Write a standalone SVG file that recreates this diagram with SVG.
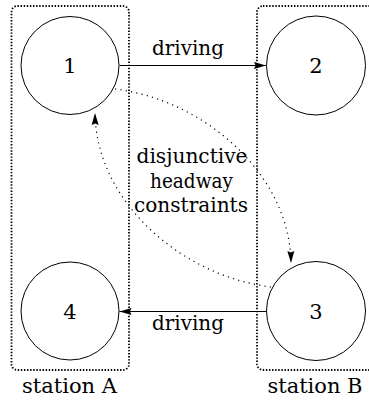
<svg xmlns="http://www.w3.org/2000/svg" width="369" height="402" viewBox="0 0 369 402">
  <style>
    .station { fill: none; stroke: #000; stroke-width: 1.8; stroke-dasharray: 1.4 1.7; }
    .node circle { fill: #fff; stroke: #000; stroke-width: 1; }
    .lbl { font-family: "DejaVu Serif", "Liberation Serif", "Times New Roman", serif; font-size: 21px; fill: #000; text-anchor: middle; }
    .drive { fill: none; stroke: #000; stroke-width: 1; }
    .headway { fill: none; stroke: #000; stroke-width: 1.2; stroke-dasharray: 1.2 4.2; }
  </style>
  <defs>
    <marker id="arrow" markerUnits="userSpaceOnUse" markerWidth="13" markerHeight="8" refX="12" refY="4" orient="auto">
      <path d="M0,0.5 L12,4 L0,7.5 L1.5,4 Z" fill="#000"/>
    </marker>
  </defs>

  <!-- station frames -->
  <g id="stationA">
    <rect class="station" x="11.5" y="6" width="117.5" height="364" rx="6"/>
    <text class="lbl" x="69.5" y="393" textLength="95" lengthAdjust="spacingAndGlyphs">station A</text>
  </g>
  <g id="stationB">
    <rect class="station" x="257" y="6" width="125" height="364" rx="6"/>
    <text class="lbl" x="315" y="393" textLength="95" lengthAdjust="spacingAndGlyphs">station B</text>
  </g>

  <!-- connectors -->
  <g id="connectors">
    <line class="drive" x1="119.5" y1="65.5" x2="266" y2="65.5" marker-end="url(#arrow)"/>
    <line class="drive" x1="266" y1="311.5" x2="119.5" y2="311.5" marker-end="url(#arrow)"/>
    <path class="headway" d="M115,89 C205,100 290,175 291,263" marker-end="url(#arrow)"/>
    <path class="headway" d="M271,287 C181,276 96,201 95,113" marker-end="url(#arrow)"/>
    <text class="lbl" x="188" y="55" textLength="72" lengthAdjust="spacingAndGlyphs">driving</text>
    <text class="lbl" x="188" y="330" textLength="72" lengthAdjust="spacingAndGlyphs">driving</text>
    <text class="lbl" x="192" y="163" textLength="111" lengthAdjust="spacingAndGlyphs">disjunctive</text>
    <text class="lbl" x="191.5" y="188" textLength="83" lengthAdjust="spacingAndGlyphs">headway</text>
    <text class="lbl" x="191" y="212" textLength="114" lengthAdjust="spacingAndGlyphs">constraints</text>
  </g>

  <!-- events -->
  <g id="node1" class="node">
    <circle cx="70" cy="65.5" r="49"/>
    <text class="lbl" x="70" y="73">1</text>
  </g>
  <g id="node2" class="node">
    <circle cx="316" cy="65.5" r="49.5"/>
    <text class="lbl" x="316" y="73">2</text>
  </g>
  <g id="node3" class="node">
    <circle cx="316" cy="311" r="49.5"/>
    <text class="lbl" x="316" y="319">3</text>
  </g>
  <g id="node4" class="node">
    <circle cx="70" cy="311" r="49"/>
    <text class="lbl" x="70" y="319">4</text>
  </g>
</svg>
